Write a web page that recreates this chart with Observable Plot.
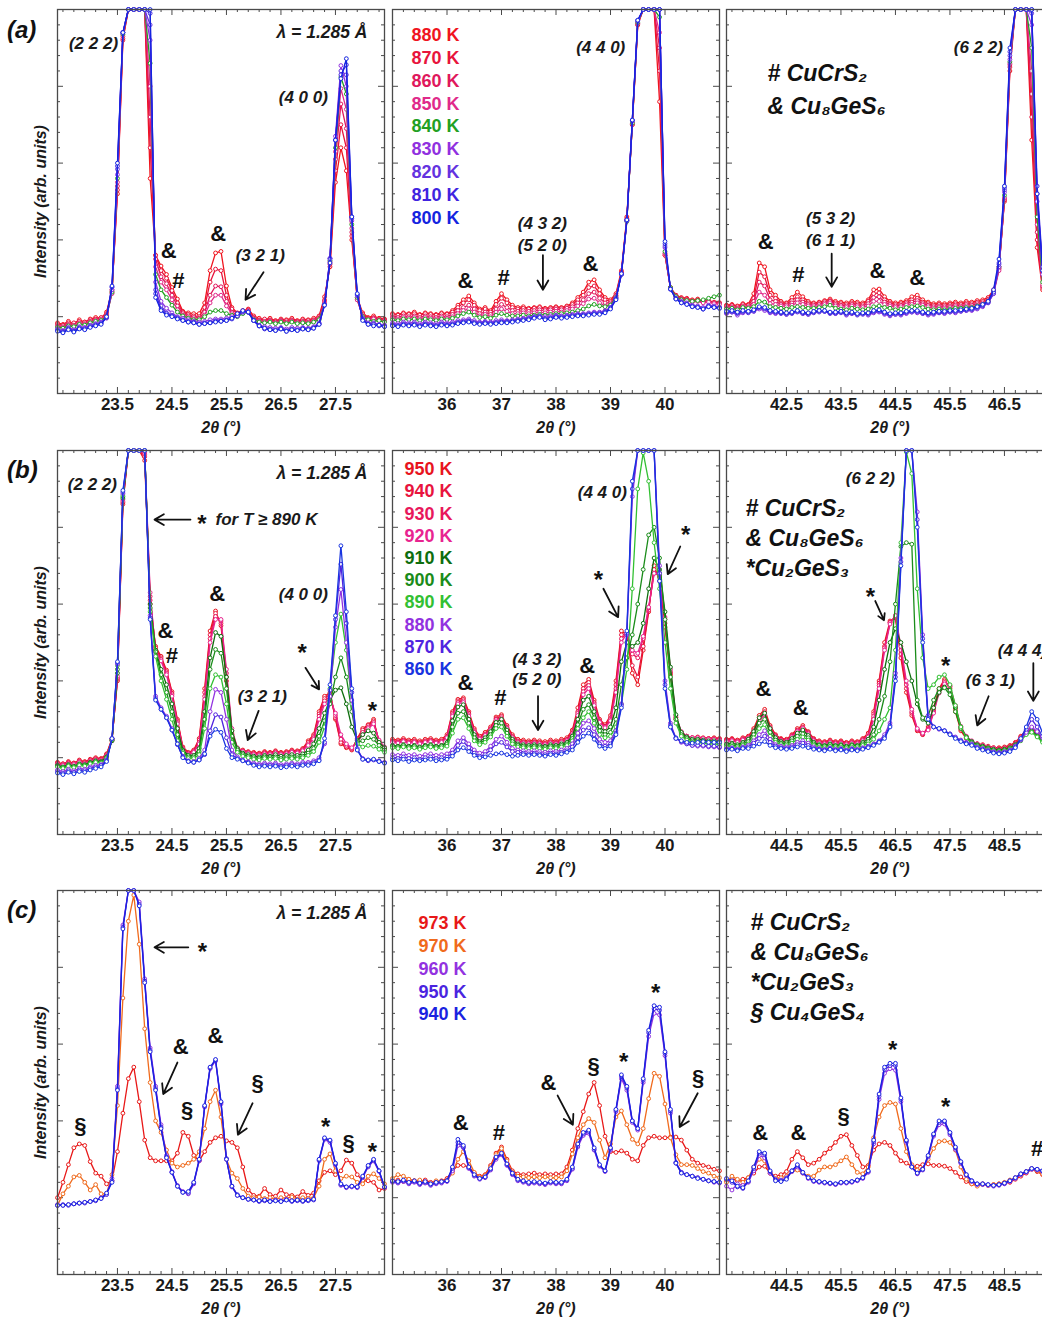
<!DOCTYPE html>
<html><head><meta charset="utf-8">
<script src="https://cdn.jsdelivr.net/npm/d3@7"></script>
<script src="https://cdn.jsdelivr.net/npm/@observablehq/plot@0.6"></script>
<style>
html,body{margin:0;padding:0;background:#fff;overflow:hidden;width:1042px;height:1317px;}
#fig{position:relative;width:1100px;height:1317px;font-family:'Liberation Sans',Arial,sans-serif;}
.panel{position:absolute;}
.plab{position:absolute;font-weight:bold;font-style:italic;font-size:24px;color:#111;}
</style></head><body><div id="fig"></div>
<script>
// ---------- 2θ sampling (degrees) ----------
const ang1 = [22.4,22.5,22.6,22.7,22.8,22.9,23.0,23.1,23.2,23.3,23.4,23.5,23.6,23.7,23.8,23.9,24.0,24.1,24.2,24.3,24.4,24.5,24.6,24.7,24.8,24.9,25.0,25.1,25.2,25.3,25.4,25.5,25.6,25.7,25.8,25.9,26.0,26.1,26.2,26.3,26.4,26.5,26.6,26.7,26.8,26.9,27.0,27.1,27.2,27.3,27.4,27.5,27.6,27.7,27.8,27.9,28.0,28.1,28.2,28.3,28.4];
const ang2 = [35.0,35.1,35.2,35.3,35.4,35.5,35.6,35.7,35.8,35.9,36.0,36.1,36.2,36.3,36.4,36.5,36.6,36.7,36.8,36.9,37.0,37.1,37.2,37.3,37.4,37.5,37.6,37.7,37.8,37.9,38.0,38.1,38.2,38.3,38.4,38.5,38.6,38.7,38.8,38.9,39.0,39.1,39.2,39.3,39.4,39.5,39.6,39.7,39.8,39.9,40.0,40.1,40.2,40.3,40.4,40.5,40.6,40.7,40.8,40.9,41.0];
const ang3a = [41.4,41.5,41.6,41.7,41.8,41.9,42.0,42.1,42.2,42.3,42.4,42.5,42.6,42.7,42.8,42.9,43.0,43.1,43.2,43.3,43.4,43.5,43.6,43.7,43.8,43.9,44.0,44.1,44.2,44.3,44.4,44.5,44.6,44.7,44.8,44.9,45.0,45.1,45.2,45.3,45.4,45.5,45.6,45.7,45.8,45.9,46.0,46.1,46.2,46.3,46.4,46.5,46.6,46.7,46.8,46.9,47.0,47.1,47.2,47.3,47.4];
const ang3b = [43.4,43.5,43.6,43.7,43.8,43.9,44.0,44.1,44.2,44.3,44.4,44.5,44.6,44.7,44.8,44.9,45.0,45.1,45.2,45.3,45.4,45.5,45.6,45.7,45.8,45.9,46.0,46.1,46.2,46.3,46.4,46.5,46.6,46.7,46.8,46.9,47.0,47.1,47.2,47.3,47.4,47.5,47.6,47.7,47.8,47.9,48.0,48.1,48.2,48.3,48.4,48.5,48.6,48.7,48.8,48.9,49.0,49.1,49.2,49.3,49.4];

// ---------- temperatures ----------
const tempsA = ["880 K","870 K","860 K","850 K","840 K","830 K","820 K","810 K","800 K"];
const tempsB = ["950 K","940 K","930 K","920 K","910 K","900 K","890 K","880 K","870 K","860 K"];
const tempsC = ["973 K","970 K","960 K","950 K","940 K"];

// ---------- tick labels ----------
const ticks1 = [23.5,24.5,25.5,26.5,27.5];
const ticks2 = [36,37,38,39,40];
const ticks3a = [42.5,43.5,44.5,45.5,46.5];
const ticks3b = [44.5,45.5,46.5,47.5,48.5];

// ---------- intensities (arb. units), row (a) ----------
const a1_880 = [92,90,94,91,96,93,97,99,98,106, 135,260,460,500,500,500,500,280,180,166, 155,138,123,107,105,104,104,118,160,183, 185,140,112,105,108,110,101,98,96,98, 95,97,96,98,95,97,96,98,101,126, 165,275,320,290,200,125,105,99,101,98,97];
const a1_870 = [90,89,92,92,94,93,96,97,99,104, 133,265,462,500,500,500,500,320,180,160, 150,134,118,106,103,101,100,112,145,162, 160,128,110,104,107,109,99,96,97,96, 94,96,95,96,94,96,95,96,100,122, 168,290,350,320,205,123,103,98,99,97,96];
const a1_860 = [88,87,90,89,92,91,94,96,97,102, 131,270,465,500,500,500,500,360,175,152, 143,128,114,104,101,99,98,106,128,140, 139,120,106,102,106,108,98,95,94,95, 93,95,93,95,93,94,93,95,98,120, 170,305,377,345,210,122,101,97,98,96,95];
const a1_850 = [87,86,89,88,91,90,93,95,96,101, 130,275,467,500,500,500,500,400,165,145, 135,122,109,102,99,97,96,102,118,128, 128,114,104,101,105,107,97,94,93,94, 92,94,92,94,92,93,92,94,97,118, 172,315,397,370,215,122,100,96,97,95,94];
const a1_840 = [86,85,88,87,90,89,92,94,95,100, 132,280,468,500,500,500,500,430,155,135, 125,115,106,101,98,96,96,100,106,108, 108,104,102,100,104,106,96,93,92,93, 91,93,91,93,91,92,91,93,96,116, 173,320,412,390,220,125,100,96,94,95,93];
const a1_830 = [84,82,86,83,87,86,89,91,93,98, 135,285,470,500,500,500,500,460,145,120, 111,105,100,98,96,94,93,94,96,97, 97,98,100,102,106,106,95,89,87,86, 85,86,84,86,85,86,85,87,92,116, 176,335,427,400,225,127,98,92,92,90,89];
const a1_820 = [83,81,85,82,86,85,88,90,92,99, 138,292,470,500,500,500,500,480,135,114, 105,102,99,96,94,93,91,92,93,95, 95,96,98,101,106,106,95,88,85,84, 83,85,82,84,83,85,84,86,91,116, 176,330,420,415,228,128,97,91,91,89,88];
const a1_810 = [82,80,84,81,85,84,87,89,91,99, 139,296,470,500,500,500,500,495,130,110, 104,101,98,95,93,92,90,91,92,94, 94,95,97,101,107,106,95,88,84,83, 82,84,81,83,82,84,83,85,90,115, 175,330,415,428,230,129,96,90,90,88,87];
const a1_800 = [81,79,83,80,84,83,86,88,90,100, 140,300,470,500,500,500,500,500,125,108, 102,100,97,95,93,92,90,91,92,93, 94,95,98,104,108,106,95,88,85,83, 82,84,81,83,82,84,83,85,90,115, 170,330,410,436,230,130,95,90,88,89,87];

const a2_880 = [104,103,105,104,106,103,105,104,103,105, 104,108,115,122,127,118,110,112,108,120, 130,122,115,112,113,111,112,113,111,112, 113,112,114,118,125,132,145,148,135,125, 122,130,160,230,350,480,500,500,500,380, 180,138,128,125,124,122,123,120,121,119,118];
const a2_870 = [103,102,104,103,104,102,104,103,102,104, 103,106,112,118,122,115,108,110,106,116, 124,118,112,110,111,110,111,112,110,111, 112,111,113,116,122,128,138,140,130,122, 120,128,158,228,350,480,500,500,500,420, 180,138,128,124,123,121,122,120,120,118,118];
const a2_860 = [100,99,101,100,101,99,101,100,99,101, 100,103,108,112,115,110,104,106,103,110, 116,112,108,107,108,107,108,109,108,109, 110,109,111,113,118,122,130,132,124,118, 118,127,157,226,352,482,500,500,500,450, 182,137,127,123,122,120,121,119,120,118,117];
const a2_850 = [98,97,99,98,99,97,99,98,97,99, 98,100,104,108,110,106,101,103,100,106, 110,107,104,104,105,104,105,106,105,106, 107,106,108,110,114,117,123,124,118,114, 116,126,156,225,352,482,500,500,500,470, 183,137,126,122,121,119,120,118,119,117,116];
const a2_840 = [96,95,97,96,97,95,97,96,95,97, 96,98,101,104,106,102,99,100,98,102, 104,102,101,101,102,101,102,103,102,103, 104,104,105,106,108,110,114,116,114,113, 115,125,155,224,352,483,500,500,500,490, 185,138,126,122,121,120,121,122,124,126,128];
const a2_830 = [92,91,93,92,93,91,93,92,91,93, 92,93,95,96,97,95,93,94,93,95, 96,95,96,97,98,99,100,101,100,101, 102,101,102,103,104,104,105,106,106,108, 112,124,155,225,355,485,500,500,500,500, 190,136,124,120,118,115,114,112,115,114,112];
const a2_820 = [90,89,91,90,91,89,91,90,89,91, 90,91,93,94,95,93,92,93,92,93, 94,94,95,96,97,98,100,101,98,99, 101,100,101,102,103,103,104,105,105,107, 112,124,155,225,355,485,500,500,500,500, 192,136,124,119,117,114,113,110,114,113,112];
const a2_810 = [89,88,90,89,90,88,90,89,88,90, 89,90,92,93,94,92,91,92,91,92, 93,93,94,95,96,97,99,100,97,98, 100,99,100,101,102,102,103,104,104,106, 111,123,156,226,356,486,500,500,500,500, 195,136,123,118,116,113,112,110,113,112,111];
const a2_800 = [88,87,89,88,89,87,89,88,87,89, 88,89,91,92,93,91,90,91,90,91, 92,92,93,94,95,96,98,99,96,97, 99,98,99,100,101,101,102,103,103,105, 110,122,156,226,356,486,500,500,500,500, 198,136,123,118,116,113,112,110,113,112,111];

const a3_880 = [115,116,114,117,116,130,170,165,135,128, 120,118,125,132,126,120,118,119,121,123, 120,119,118,120,119,118,122,135,136,126, 120,118,119,121,126,128,122,119,117,118, 117,118,119,118,120,119,121,122,125,135, 165,250,420,500,500,500,330,190,135,125,122];
const a3_870 = [114,115,113,116,115,124,158,152,128,124, 118,117,121,126,122,118,117,118,120,121, 118,117,116,118,117,116,120,130,131,122, 118,116,117,119,122,124,119,117,115,116, 115,116,117,116,118,117,119,120,123,133, 163,252,425,500,500,500,360,200,138,125,122];
const a3_860 = [112,113,111,114,113,120,145,140,122,120, 116,115,118,122,119,116,115,116,118,120, 116,115,114,116,115,114,117,125,126,119, 116,114,115,117,119,121,117,115,113,114, 113,114,115,114,116,115,117,118,121,131, 162,254,428,500,500,500,390,210,140,126,122];
const a3_850 = [111,112,110,113,112,116,132,128,117,116, 114,113,115,118,116,114,113,114,116,118, 114,113,112,114,113,112,114,120,120,116, 114,112,113,115,116,118,115,113,111,112, 111,112,113,112,114,113,115,116,120,130, 160,255,430,500,500,500,420,220,142,127,122];
const a3_840 = [110,111,109,112,111,113,120,119,113,112, 111,110,112,113,112,111,111,112,113,115, 111,110,109,111,110,109,110,113,114,112, 111,109,110,112,113,114,112,110,109,110, 109,110,111,111,112,112,114,116,120,132, 165,258,432,500,500,500,450,230,145,128,124];
const a3_830 = [104,106,102,105,106,107,110,108,105,104, 106,103,105,107,104,103,106,108,107,105, 104,106,102,104,103,104,102,105,106,103, 101,103,102,104,106,105,104,102,103,105, 104,106,105,107,108,108,110,113,118,130, 165,262,435,500,500,500,480,250,155,130,125];
const a3_820 = [105,106,104,106,105,107,112,110,106,105, 104,103,104,106,104,103,105,106,107,104, 104,105,103,104,102,103,103,106,107,104, 102,103,103,105,106,106,104,103,104,105, 105,106,106,107,108,109,111,114,118,130, 168,265,440,500,500,500,495,260,160,132,125];
const a3_810 = [106,107,105,107,106,108,112,111,107,106, 105,104,105,107,105,104,106,107,107,105, 105,106,104,105,103,104,104,107,108,105, 103,104,104,106,107,107,105,104,105,106, 106,107,107,108,109,110,112,115,119,132, 170,268,445,500,500,500,500,270,165,135,126];
const a3_800 = [107,108,106,108,107,109,113,112,108,107, 106,105,106,108,106,105,107,108,108,106, 106,107,105,106,104,105,105,108,109,106, 104,105,105,107,108,108,106,105,106,107, 107,108,108,109,110,111,113,116,120,135, 175,270,450,500,500,500,500,260,160,135,126];

// ---------- row (b) ----------
const b1_950 = [94,92,95,93,97,95,98,100,99,105, 125,200,430,500,500,500,487,300,245,232, 214,186,150,114,107,110,125,190,265,291, 272,200,130,112,110,108,107,106,108,107, 109,107,108,110,109,112,122,130,160,180, 185,150,118,113,110,125,138,143,150,120,112];
const b1_940 = [93,92,94,93,96,94,97,99,98,104, 124,202,432,500,500,500,492,305,243,230, 212,184,148,113,106,109,123,185,260,288, 275,205,132,112,109,107,106,105,107,106, 108,106,107,109,108,111,120,128,157,177, 183,152,120,114,111,124,136,142,148,121,112];
const b1_930 = [92,91,93,92,95,93,96,98,97,103, 123,204,434,500,500,500,495,310,240,228, 210,182,146,112,105,108,120,180,255,284, 278,210,135,112,108,106,105,104,106,105, 107,105,106,108,107,110,118,126,154,174, 180,155,124,116,112,122,133,140,146,122,113];
const b1_920 = [91,90,92,91,94,92,95,97,96,102, 122,206,436,500,500,500,497,315,238,226, 208,180,144,111,104,107,118,176,250,280, 280,215,138,113,108,106,104,103,105,104, 106,104,105,107,106,109,116,124,150,170, 178,158,130,118,113,120,130,138,144,123,114];
const b1_910 = [90,88,91,89,92,91,94,96,95,101, 122,210,438,500,500,500,500,300,240,215, 195,170,138,110,103,103,112,160,230,263, 258,205,135,112,106,104,102,101,103,102, 104,102,103,104,103,105,110,118,138,158, 175,188,191,170,140,122,130,135,132,120,113];
const b1_900 = [89,87,90,88,91,90,93,95,94,100, 123,215,440,500,500,500,500,295,238,208, 185,160,130,108,101,101,108,150,215,241, 236,190,128,110,104,102,100,99,101,100, 101,99,100,101,100,102,106,112,128,148, 170,205,230,205,160,120,122,126,124,116,110];
const b1_890 = [88,86,89,87,90,89,92,94,93,99, 124,220,442,500,500,500,500,290,232,200, 176,150,122,106,99,99,104,138,190,208, 205,170,120,107,102,100,98,97,99,98, 99,97,98,99,98,100,103,108,120,140, 190,250,287,240,170,118,114,116,115,111,107];
const b1_880 = [84,82,85,83,86,85,88,90,91,97, 125,222,444,500,500,500,500,285,180,165, 154,138,118,102,96,95,99,110,160,189, 185,150,110,101,97,95,93,92,93,92, 93,91,92,93,92,94,94,96,100,118, 180,270,319,250,175,110,99,97,98,96,94];
const b1_870 = [82,80,83,81,84,83,86,88,90,96, 125,224,446,500,500,500,500,282,177,163, 152,136,117,101,95,94,97,104,135,156, 153,126,104,99,96,94,91,90,91,90, 91,89,90,91,90,92,92,94,97,120, 188,280,352,275,185,112,98,96,97,95,93];
const b1_860 = [80,78,81,79,82,81,84,86,88,95, 125,225,448,500,500,500,500,280,175,163, 152,136,118,100,95,94,97,105,128,137, 133,112,100,98,96,93,90,88,89,88, 89,87,88,89,88,90,90,92,96,125, 195,285,376,290,190,110,98,97,98,95,93];

const b2_950 = [124,123,125,123,124,122,124,125,123,124, 130,160,176,178,160,138,128,133,140,153, 156,142,130,124,123,122,123,122,121,123, 122,124,126,136,165,195,202,175,150,143, 155,200,265,260,210,195,240,290,350,330, 270,208,150,132,128,126,127,126,125,126,125];
const b2_940 = [122,121,123,121,122,120,122,123,121,122, 128,158,174,176,158,136,126,131,138,151, 154,140,128,122,121,120,121,120,119,121, 120,122,124,134,160,190,198,172,148,141, 152,195,260,262,220,205,245,292,345,335, 275,210,152,133,128,126,126,125,125,125,124];
const b2_930 = [121,120,122,120,121,119,121,122,120,121, 127,156,172,174,156,134,125,130,137,150, 152,139,127,121,120,119,120,119,118,120, 119,121,123,132,158,186,194,170,147,140, 150,190,255,262,235,230,255,295,340,338, 280,212,153,133,128,126,126,125,124,124,123];
const b2_920 = [120,119,121,119,120,118,120,121,119,120, 126,154,170,172,154,133,124,129,136,148, 150,138,126,120,119,118,119,118,117,119, 118,120,122,130,155,182,190,168,146,139, 148,185,250,262,240,236,258,296,340,340, 283,215,155,134,128,126,126,125,124,124,123];
const b2_910 = [116,115,117,115,116,114,116,117,115,116, 120,148,166,169,150,130,121,126,134,146, 150,136,124,118,117,116,117,116,115,117, 116,118,120,128,150,175,180,160,140,134, 140,165,225,250,245,250,275,320,360,345, 290,218,156,133,127,124,124,123,122,122,121];
const b2_900 = [115,114,116,114,115,113,115,116,114,115, 118,140,158,160,145,126,119,123,130,142, 145,132,121,116,115,114,115,114,113,115, 114,116,118,125,143,163,169,152,135,130, 133,150,195,230,260,300,345,390,400,360, 280,205,150,130,125,122,122,121,120,120,119];
const b2_890 = [113,112,114,112,113,111,113,114,112,113, 115,132,150,152,138,122,117,120,127,138, 140,128,118,114,113,112,113,112,111,113, 112,114,116,122,138,152,160,145,130,126, 128,140,170,215,320,450,497,460,380,320, 250,190,145,128,123,120,120,119,118,118,117];
const b2_880 = [104,103,105,103,104,102,104,105,103,104, 105,110,122,126,118,110,106,108,115,124, 128,120,112,110,109,108,109,108,107,109, 108,110,112,118,132,145,148,138,124,120, 122,135,170,260,440,500,500,500,500,350, 200,145,125,120,118,116,115,115,114,114,113];
const b2_870 = [100,99,101,99,100,98,100,101,99,100, 101,106,116,121,113,106,102,104,110,118, 120,114,108,107,106,105,106,105,104,106, 105,107,109,114,126,136,139,130,118,115, 118,132,168,262,450,500,500,500,500,340, 195,142,126,121,118,116,116,116,115,115,114];
const b2_860 = [97,96,98,95,97,96,97,98,96,97, 98,102,110,113,108,103,100,101,103,105, 106,104,102,103,104,103,104,103,102,104, 103,105,107,110,120,128,132,124,115,112, 115,130,165,265,460,500,500,500,500,330, 190,140,125,122,120,119,120,121,120,120,120];

const b3_950 = [124,125,123,126,128,138,155,163,142,130, 125,124,130,138,142,134,125,122,121,123, 121,122,120,122,121,125,132,160,200,250, 278,282,230,185,155,135,130,140,165,190, 202,190,160,135,125,120,118,117,115,113, 113,114,116,120,128,136,139,133,126,122,120];
const b3_940 = [123,124,122,125,127,136,152,160,140,129, 124,123,129,136,140,133,124,121,120,122, 120,121,119,121,120,124,130,157,197,245, 276,283,235,190,158,136,130,138,162,188, 200,192,163,137,126,121,118,116,114,113, 112,113,115,119,127,135,138,132,125,121,119];
const b3_930 = [122,123,121,124,126,134,150,158,139,128, 123,122,128,135,139,132,123,120,119,121, 119,120,118,120,119,123,128,154,194,243, 276,285,240,195,160,137,131,137,160,186, 198,193,166,139,127,121,118,116,114,112, 111,112,114,118,126,134,137,131,124,120,118];
const b3_920 = [121,122,120,123,125,132,148,156,138,127, 122,121,127,134,138,131,122,119,118,120, 118,119,117,119,118,122,127,150,190,240, 274,285,245,200,163,138,132,136,158,184, 196,194,168,141,128,122,118,116,114,112, 110,111,113,117,125,133,136,130,123,119,117];
const b3_910 = [118,119,117,120,124,134,152,158,138,126, 121,120,125,132,136,129,120,117,116,118, 116,117,115,117,116,120,124,140,175,215, 250,268,250,225,200,170,150,145,165,185, 192,188,165,140,127,121,117,115,113,111, 110,111,113,117,124,132,135,129,122,118,116];
const b3_900 = [116,117,115,118,121,130,145,150,133,123, 119,118,122,128,131,126,118,116,115,117, 115,116,114,116,115,118,121,130,150,180, 225,300,375,380,378,175,152,155,175,190, 191,182,160,138,126,120,116,114,112,110, 109,110,112,116,123,131,134,128,121,117,115];
const b3_890 = [114,115,113,116,118,126,138,143,128,120, 117,116,119,124,127,123,116,114,113,115, 113,114,112,114,113,116,118,124,135,150, 165,240,380,498,470,320,230,190,195,205, 208,195,168,140,126,119,115,113,111,109, 108,109,111,115,122,130,133,127,120,116,114];
const b3_880 = [112,113,111,114,116,122,130,135,124,117, 115,114,116,120,122,119,114,112,111,113, 111,112,110,112,111,113,115,118,122,130, 145,210,360,500,500,420,260,155,140,137, 135,131,127,123,120,118,114,112,110,108, 107,108,110,115,123,133,140,134,126,121,118];
const b3_870 = [111,112,110,113,114,119,125,128,120,115, 113,112,114,117,119,116,112,111,110,112, 110,111,109,111,110,112,114,117,121,127, 142,205,355,500,500,410,255,152,140,138, 135,131,126,122,119,117,113,111,109,107, 106,107,109,114,124,137,150,140,128,122,118];
const b3_860 = [110,111,109,112,112,115,118,121,116,113, 112,111,112,114,115,113,111,110,109,111, 109,110,108,110,109,111,113,116,120,125, 140,200,350,500,500,400,250,150,140,138, 135,130,125,121,118,116,112,110,108,106, 105,106,108,113,125,140,160,150,132,124,120];

// ---------- row (c) ----------
const c1_973 = [100,120,143,165,170,168,147,132,128,118, 122,160,210,255,270,225,175,152,148,148, 148,148,158,185,180,155,148,160,172,178, 180,174,172,165,140,110,103,102,112,104, 102,110,104,103,101,108,103,106,122,133, 135,130,135,149,145,130,122,122,120,110,112];
const c1_970 = [90,105,115,127,129,120,110,117,105,105, 130,220,360,460,494,430,320,250,200,185, 162,145,140,142,145,150,160,190,225,240, 205,150,132,125,112,102,100,101,99,100, 98,100,99,101,98,100,99,100,115,150, 157,135,125,128,127,120,118,128,131,125,118];
const c1_960 = [91,90,91,92,93,94,95,97,100,105, 125,245,455,500,500,485,385,295,245,195, 155,134,116,108,105,118,148,218,268,278, 222,150,114,103,100,98,97,96,97,96, 97,96,98,96,97,96,97,98,148,176, 172,143,116,113,114,113,126,140,148,134,113];
const c1_950 = [90,91,90,92,93,93,95,96,99,104, 122,242,452,500,500,482,382,292,242,192, 153,133,115,107,106,119,149,219,269,279, 224,151,115,104,100,98,97,95,96,95, 96,95,97,95,96,95,96,97,149,177, 174,144,117,114,115,114,127,141,149,135,114];
const c1_940 = [90,90,91,92,93,94,95,97,99,106, 120,240,450,500,500,480,380,290,240,190, 152,133,115,107,108,120,150,220,270,280, 225,150,115,103,100,98,97,96,97,95, 96,95,97,96,97,96,97,98,150,178, 175,145,118,114,115,114,128,142,150,135,114];

const c2_973 = [122,123,121,124,122,121,123,120,121,122, 125,135,142,142,140,132,128,130,142,158, 166,150,135,131,130,131,132,130,131,130, 131,131,140,162,190,212,235,250,220,180, 160,159,161,158,150,148,168,178,180,178, 178,179,179,175,162,150,145,142,140,137,135];
const c2_970 = [125,130,128,124,122,123,120,118,122,121, 123,132,150,160,148,133,127,129,140,156, 164,148,133,128,127,126,127,126,127,126, 126,127,135,157,178,195,203,198,175,152, 170,205,213,195,176,170,190,229,262,258, 222,178,156,143,143,142,138,134,132,128,126];
const c2_960 = [120,119,121,118,120,117,119,116,118,119, 121,135,168,165,138,128,124,126,136,150, 156,142,130,122,120,118,119,118,117,119, 118,118,122,137,166,181,184,162,141,134, 162,212,255,240,198,188,250,310,340,338, 285,210,145,133,130,128,126,124,122,120,119];
const c2_950 = [121,120,122,119,121,118,120,117,119,120, 122,138,172,166,139,129,125,127,137,152, 157,143,131,123,121,119,120,119,118,120, 119,119,123,138,168,183,186,163,142,135, 164,214,258,243,200,190,253,315,346,344, 288,213,146,133,130,128,126,124,122,121,120];
const c2_940 = [122,121,123,120,122,119,121,118,120,121, 122,140,176,168,140,130,125,127,138,153, 158,144,132,124,122,120,121,120,119,121, 120,120,124,140,170,185,188,165,143,135, 165,215,260,245,200,190,255,318,350,348, 290,215,145,132,130,128,125,124,122,121,120];

const c3_973 = [122,125,122,124,126,132,140,141,132,128, 130,134,150,160,152,143,145,150,158,164, 172,180,182,168,155,140,142,162,170,172, 168,158,148,145,141,141,143,144,142,142, 141,138,133,127,121,118,117,118,116,117, 118,119,120,124,128,132,137,134,130,128,127];
const c3_970 = [120,128,124,120,126,140,150,148,132,125, 126,128,134,136,132,128,128,136,140,140, 143,148,153,143,133,131,140,178,205,220, 224,222,190,160,143,136,138,150,164,173, 174,172,162,140,124,118,115,117,116,117, 118,120,123,126,130,134,138,135,131,129,128];
const c3_960 = [115,110,118,116,120,135,155,152,132,124, 123,126,134,140,132,125,121,120,119,118, 117,119,119,120,122,125,133,170,228,262, 268,266,225,172,140,131,136,153,180,195, 196,182,163,145,129,121,117,117,116,115, 116,118,121,125,130,133,137,136,134,131,129];
const c3_950 = [124,120,114,112,121,138,158,156,134,123, 122,125,135,142,133,126,122,121,120,119, 118,120,120,121,123,126,134,173,232,267, 272,272,228,174,140,132,137,154,182,198, 199,184,165,146,130,122,118,118,117,116, 117,119,122,126,131,134,138,137,135,132,130];
const c3_940 = [125,122,115,113,122,140,160,158,135,122, 121,124,135,143,133,126,122,121,120,119, 118,120,120,121,123,126,135,175,235,270, 275,275,230,175,140,132,137,155,183,200, 200,185,166,147,130,122,118,118,117,116, 117,119,122,126,131,134,138,137,135,132,130];

// ---------- styles ----------
const colorsA = ["#f0141e","#e8143c","#e0185c","#e02a8a","#22a022","#9030e0","#6432e0","#4024e0","#1424e0"];
const colorsB = ["#e8141e","#e8143e","#e8185c","#e82490","#0e6e0e","#1a8c1a","#32c032","#9232e0","#5024e0","#1834e0"];
const colorsC = ["#e81818","#f06a1c","#9232e0","#4a24e0","#1a22e0"];
const FONT = "'Liberation Sans', Arial, sans-serif";
const W = 327, H = 384;
const colLeft = [57, 392, 726];
const rowTop = [9, 450, 890];

// ---------- annotations (data coords: 2θ, intensity) ----------
const notesA1 = {hkl:[{x:23.06,y:456,t:"(2 2 2)"},{x:26.91,y:385,t:"(4 0 0)"},{x:26.12,y:180,t:"(3 2 1)"}], note:[],
  sym:[{x:24.44,y:186,t:"&"},{x:24.62,y:147,t:"#"},{x:25.35,y:208,t:"&"}],
  arr:[{x1:26.18,y1:158,x2:25.85,y2:122}]};
const notesA2 = {hkl:[{x:38.82,y:450,t:"(4 4 0)"},{x:37.75,y:221,t:"(4 3 2)"},{x:37.75,y:193,t:"(5 2 0)"}], note:[],
  sym:[{x:36.34,y:147,t:"&"},{x:37.04,y:150,t:"#"},{x:38.63,y:169,t:"&"}],
  arr:[{x1:37.76,y1:180,x2:37.76,y2:135}]};
const notesA3 = {hkl:[{x:46.02,y:450,t:"(6 2 2)"},{x:43.31,y:228,t:"(5 3 2)"},{x:43.31,y:199,t:"(6 1 1)"}], note:[],
  sym:[{x:42.12,y:197,t:"&"},{x:42.72,y:154,t:"#"},{x:44.17,y:160,t:"&"},{x:44.9,y:150,t:"&"}],
  arr:[{x1:43.33,y1:182,x2:43.33,y2:139}]};
const notesB1 = {hkl:[{x:23.04,y:456,t:"(2 2 2)"},{x:26.91,y:313,t:"(4 0 0)"},{x:26.16,y:180,t:"(3 2 1)"}],
  note:[{x:25.3,y:410,t:"for T ≥ 890 K"}],
  sym:[{x:25.05,y:410,t:"*"},{x:25.33,y:313,t:"&"},{x:24.38,y:265,t:"&"},{x:24.5,y:232,t:"#"},{x:26.89,y:243,t:"*"},{x:28.18,y:167,t:"*"}],
  arr:[{x1:24.84,y1:410,x2:24.18,y2:410},{x1:26.09,y1:161,x2:25.89,y2:123},{x1:26.95,y1:217,x2:27.2,y2:189}]};
const notesB2 = {hkl:[{x:38.85,y:445,t:"(4 4 0)"},{x:37.65,y:228,t:"(4 3 2)"},{x:37.65,y:202,t:"(5 2 0)"}], note:[],
  sym:[{x:40.38,y:396,t:"*"},{x:38.78,y:337,t:"*"},{x:36.34,y:197,t:"&"},{x:36.98,y:178,t:"#"},{x:38.57,y:219,t:"&"}],
  arr:[{x1:40.28,y1:375,x2:40.05,y2:339},{x1:38.87,y1:320,x2:39.14,y2:283},{x1:37.67,y1:180,x2:37.67,y2:136}]};
const notesB3 = {hkl:[{x:46.04,y:463,t:"(6 2 2)"},{x:48.24,y:200,t:"(6 3 1)"},{x:48.83,y:239,t:"(4 4 4)"}], note:[],
  sym:[{x:46.04,y:315,t:"*"},{x:47.42,y:226,t:"*"},{x:44.08,y:189,t:"&"},{x:44.76,y:165,t:"&"}],
  arr:[{x1:46.13,y1:304,x2:46.29,y2:279},{x1:48.21,y1:180,x2:48.0,y2:142},{x1:49.03,y1:223,x2:49.03,y2:174}]};
const notesC1 = {hkl:[], note:[],
  sym:[{x:25.06,y:426,t:"*"},{x:22.82,y:194,t:"§"},{x:24.66,y:296,t:"&"},{x:25.3,y:311,t:"&"},{x:24.78,y:214,t:"§"},{x:26.07,y:249,t:"§"},{x:27.32,y:198,t:"*"},{x:27.74,y:171,t:"§"},{x:28.18,y:165,t:"*"}],
  arr:[{x1:24.8,y1:426,x2:24.18,y2:426},{x1:24.6,y1:276,x2:24.34,y2:235},{x1:25.98,y1:223,x2:25.71,y2:182}]};
const notesC2 = {hkl:[], note:[],
  sym:[{x:36.25,y:197,t:"&"},{x:36.95,y:184,t:"#"},{x:37.86,y:250,t:"&"},{x:38.69,y:272,t:"§"},{x:39.24,y:283,t:"*"},{x:39.83,y:372,t:"*"},{x:40.61,y:256,t:"§"}],
  arr:[{x1:38.03,y1:233,x2:38.31,y2:195},{x1:40.6,y1:236,x2:40.27,y2:192}]};
const notesC3 = {hkl:[], note:[],
  sym:[{x:44.02,y:184,t:"&"},{x:44.72,y:184,t:"&"},{x:45.55,y:207,t:"§"},{x:46.45,y:298,t:"*"},{x:47.42,y:224,t:"*"},{x:49.1,y:164,t:"#"}],
  arr:[]};
const phasesA = ["# CuCrS₂","& Cu₈GeS₆"];
const phasesB = ["# CuCrS₂","& Cu₈GeS₆","*Cu₂GeS₃"];
const phasesC = ["# CuCrS₂","& Cu₈GeS₆","*Cu₂GeS₃","§ Cu₄GeS₄"];

// ---------- build ----------
const fig = document.getElementById("fig");
function minorTicks(majors, domain, step) {
  const out = [];
  for (let k = -80; k <= 80; k++) {
    const v = +(majors[0] + step * k).toFixed(3);
    if (v > domain[0] + 1e-6 && v < domain[1] - 1e-6 && !majors.includes(v)) out.push(v);
  }
  return out;
}
function panel(cfg) {
  const {row, col, domain, angles, series, temps, colors, majors, notes, legend, phases, lambda, ylabel} = cfg;
  const ml = col === 0 ? 60 : 10, mr = 10, mt = 10, mb = 48;
  series.forEach((s, i) => { if (s.length !== angles.length) console.error("length mismatch", row, col, temps[i], s.length); });
  const xMin = minorTicks(majors, domain, 0.2);
  const yMaj = [100, 200, 300, 400];
  const yMin = minorTicks(yMaj, [0, 500], 20);
  const tk = {stroke: "#4a4a4a", strokeWidth: 1};
  const txt = {fill: "#1a1a1a", fontWeight: "bold"};
  const marks = [
    Plot.tickX(xMin, {x: d => d, insetTop: H - 3, ...tk}),
    Plot.tickX(xMin, {x: d => d, insetBottom: H - 3, ...tk}),
    Plot.tickX(majors, {x: d => d, insetTop: H - 6, ...tk}),
    Plot.tickX(majors, {x: d => d, insetBottom: H - 6, ...tk}),
    Plot.tickY(yMin, {y: d => d, insetRight: W - 3, ...tk}),
    Plot.tickY(yMin, {y: d => d, insetLeft: W - 3, ...tk}),
    Plot.tickY(yMaj, {y: d => d, insetRight: W - 6, ...tk}),
    Plot.tickY(yMaj, {y: d => d, insetLeft: W - 6, ...tk}),
    Plot.axisX(majors, {anchor: "bottom", tickSize: 0, tickPadding: 4, fontSize: 17, label: null, tickFormat: d => String(d), ...txt}),
    Plot.text(["2θ (°)"], {frameAnchor: "bottom", dy: 34, lineAnchor: "middle", fontSize: 16, fontStyle: "italic", ...txt})
  ];
  if (ylabel) marks.push(Plot.text(["Intensity (arb. units)"], {frameAnchor: "left", dx: -17, rotate: -90, textAnchor: "middle", lineAnchor: "middle", fontSize: 16, fontStyle: "italic", ...txt}));
  series.forEach((vals, s) => {
    const d = vals.map((v, i) => ({a: angles[i], I: v, T: temps[s]}));
    marks.push(Plot.line(d, {x: "a", y: "I", stroke: colors[s], strokeWidth: 1.3}));
    marks.push(Plot.dot(d, {x: "a", y: "I", stroke: colors[s], fill: "white", r: 1.9, strokeWidth: 1}));
  });
  marks.push(Plot.frame({stroke: "#4a4a4a", strokeWidth: 1.3}));
  if (lambda) marks.push(Plot.text(["λ = 1.285 Å"], {frameAnchor: "top-right", dx: -17, dy: 23, textAnchor: "end", lineAnchor: "middle", fontSize: 17.5, fontStyle: "italic", ...txt}));
  if (legend) temps.forEach((t, i) => marks.push(Plot.text([t], {frameAnchor: "top-left", dx: legend.dx, dy: legend.dy + i * legend.step, textAnchor: "start", lineAnchor: "middle", fontSize: 18, fontWeight: "bold", fill: colors[i]})));
  if (phases) phases.items.forEach((t, i) => marks.push(Plot.text([t], {frameAnchor: "top-left", dx: phases.dx, dy: phases.dy + i * phases.step, textAnchor: "start", lineAnchor: "middle", fontSize: 23, fontStyle: "italic", ...txt, fill: "#111"})));
  marks.push(Plot.text(notes.hkl, {x: "x", y: "y", text: "t", textAnchor: "middle", fontSize: 17, fontStyle: "italic", ...txt}));
  marks.push(Plot.text(notes.note, {x: "x", y: "y", text: "t", textAnchor: "start", fontSize: 17, fontStyle: "italic", ...txt}));
  marks.push(Plot.text(notes.sym.filter(d => d.t !== "*"), {x: "x", y: "y", text: "t", fontSize: 22, ...txt, fill: "#111"}));
  marks.push(Plot.text(notes.sym.filter(d => d.t === "*"), {x: "x", y: "y", text: "t", fontSize: 24, dy: 5, ...txt, fill: "#111"}));
  marks.push(Plot.arrow(notes.arr, {x1: "x1", y1: "y1", x2: "x2", y2: "y2", stroke: "#111", strokeWidth: 1.8, headLength: 9}));
  const p = Plot.plot({
    width: ml + W + mr, height: mt + H + mb,
    marginLeft: ml, marginRight: mr, marginTop: mt, marginBottom: mb,
    x: {domain, label: null},
    y: {domain: [0, 500], axis: null},
    style: {fontFamily: FONT, overflow: "visible", background: "transparent"},
    marks
  });
  const div = document.createElement("div");
  div.className = "panel";
  div.style.left = (colLeft[col] - ml) + "px";
  div.style.top = (rowTop[row] - mt) + "px";
  div.appendChild(p);
  fig.appendChild(div);
}

panel({row:0,col:0,domain:[22.4,28.4],angles:ang1,series:[a1_880,a1_870,a1_860,a1_850,a1_840,a1_830,a1_820,a1_810,a1_800],temps:tempsA,colors:colorsA,majors:ticks1,notes:notesA1,lambda:true,ylabel:true});
panel({row:0,col:1,domain:[35,41],angles:ang2,series:[a2_880,a2_870,a2_860,a2_850,a2_840,a2_830,a2_820,a2_810,a2_800],temps:tempsA,colors:colorsA,majors:ticks2,notes:notesA2,legend:{dx:19,dy:26,step:22.8}});
panel({row:0,col:2,domain:[41.4,47.4],angles:ang3a,series:[a3_880,a3_870,a3_860,a3_850,a3_840,a3_830,a3_820,a3_810,a3_800],temps:tempsA,colors:colorsA,majors:ticks3a,notes:notesA3,phases:{items:phasesA,dx:41,dy:64,step:33}});

panel({row:1,col:0,domain:[22.4,28.4],angles:ang1,series:[b1_950,b1_940,b1_930,b1_920,b1_910,b1_900,b1_890,b1_880,b1_870,b1_860],temps:tempsB,colors:colorsB,majors:ticks1,notes:notesB1,lambda:true,ylabel:true});
panel({row:1,col:1,domain:[35,41],angles:ang2,series:[b2_950,b2_940,b2_930,b2_920,b2_910,b2_900,b2_890,b2_880,b2_870,b2_860],temps:tempsB,colors:colorsB,majors:ticks2,notes:notesB2,legend:{dx:12,dy:19,step:22.2}});
panel({row:1,col:2,domain:[43.4,49.4],angles:ang3b,series:[b3_950,b3_940,b3_930,b3_920,b3_910,b3_900,b3_890,b3_880,b3_870,b3_860],temps:tempsB,colors:colorsB,majors:ticks3b,notes:notesB3,phases:{items:phasesB,dx:19,dy:58,step:30}});

panel({row:2,col:0,domain:[22.4,28.4],angles:ang1,series:[c1_973,c1_970,c1_960,c1_950,c1_940],temps:tempsC,colors:colorsC,majors:ticks1,notes:notesC1,lambda:true,ylabel:true});
panel({row:2,col:1,domain:[35,41],angles:ang2,series:[c2_973,c2_970,c2_960,c2_950,c2_940],temps:tempsC,colors:colorsC,majors:ticks2,notes:notesC2,legend:{dx:26,dy:33,step:22.8}});
panel({row:2,col:2,domain:[43.4,49.4],angles:ang3b,series:[c3_973,c3_970,c3_960,c3_950,c3_940],temps:tempsC,colors:colorsC,majors:ticks3b,notes:notesC3,phases:{items:phasesC,dx:24,dy:32,step:30}});

[["(a)",16],["(b)",456],["(c)",896]].forEach(([t, top]) => {
  const d = document.createElement("div");
  d.className = "plab"; d.textContent = t;
  d.style.left = "7px"; d.style.top = top + "px";
  fig.appendChild(d);
});
</script></body></html>
